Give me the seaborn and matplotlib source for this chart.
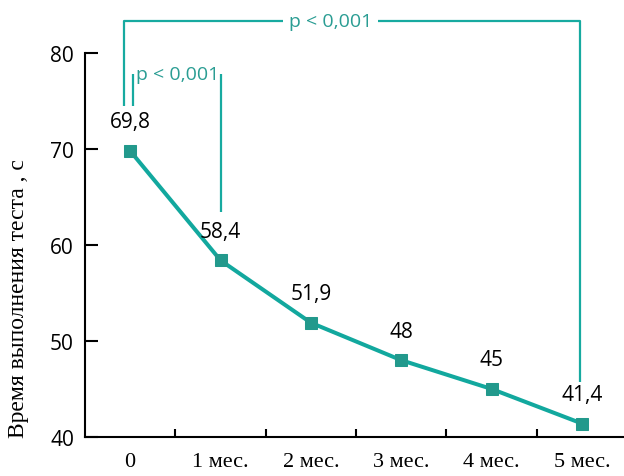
import matplotlib
matplotlib.use("Agg")
import matplotlib.pyplot as plt
import seaborn as sns
import pandas as pd
import numpy as np

# Test completion time over follow-up visits
periods = ["0", "1 мес.", "2 мес.", "3 мес.", "4 мес.", "5 мес."]
times = [69.8, 58.4, 51.9, 48.0, 45.0, 41.4]
time_labels = ["69,8", "58,4", "51,9", "48", "45", "41,4"]
y_ticks = [40, 50, 60, 70, 80]
p_text = "p < 0,001"

LINE = "#12a89e"
MARK = "#22998c"
ANNOT = "#17aaa0"
PTEXT = "#2a9d93"

sns.set_theme(style="white")
plt.rcParams["font.family"] = ["Open Sans", "DejaVu Sans"]

df = pd.DataFrame({"pos": np.arange(len(periods)), "time": times})

fig = plt.figure(figsize=(6.24, 4.77), dpi=100)
ax = fig.add_axes([0.1362, 0.0818, 0.8638, 0.805])

sns.lineplot(data=df, x="pos", y="time", ax=ax, color=LINE, linewidth=2.9,
             marker="s", markersize=8.5, markerfacecolor=MARK,
             markeredgecolor=MARK, zorder=3)

ax.set_xlim(-0.5, 5.465)
ax.set_ylim(40, 80)

# spines
for s in ["top", "right"]:
    ax.spines[s].set_visible(False)
for s in ["left", "bottom"]:
    ax.spines[s].set_color("black")
    ax.spines[s].set_linewidth(1.5)

ax.set_yticks(y_ticks)
ax.set_yticklabels([str(v) for v in y_ticks], fontsize=15, color="black")
ax.tick_params(axis="y", direction="in", length=9.5, width=1.5, pad=8,
               colors="black", left=True)

ax.set_xticks(range(len(periods)))
ax.set_xticklabels(periods, fontsize=16, family=["Liberation Serif"], color="black")
ax.set_xticks(np.arange(0.5, 5.0, 1.0), minor=True)
ax.tick_params(axis="x", which="major", length=0, pad=11)
ax.tick_params(axis="x", which="minor", direction="in", length=6, width=1.5,
               color="black", bottom=True)

ax.set_xlabel("")
ax.set_ylabel("Время выполнения теста , с", fontsize=17,
              family=["Liberation Serif"], color="black")
ax.yaxis.label.set_va("center")
ax.yaxis.set_label_coords(-0.124, 0.362)

# value labels above points
for i, (v, lab) in enumerate(zip(times, time_labels)):
    ax.annotate(lab, (i, v), xytext=(0, 21), textcoords="offset points",
                ha="center", va="center", fontsize=15, color="black")

# significance brackets
kw = dict(color=ANNOT, linewidth=1.6, clip_on=False, solid_capstyle="butt")
# 0 vs 5 months
ax.plot([-0.066, -0.066, 1.69], [74.5, 83.33, 83.33], **kw)
ax.plot([2.74, 4.98, 4.98], [83.33, 83.33, 45.7], **kw)
ax.text(2.215, 83.33, p_text, ha="center", va="center", fontsize=14,
        color=PTEXT, clip_on=False)
# 0 vs 1 month
ax.plot([0.033, 0.033], [74.5, 77.85], **kw)
ax.plot([1.0, 1.0], [77.85, 63.4], **kw)
ax.text(0.07, 77.85, p_text, ha="left", va="center", fontsize=14,
        color=PTEXT, clip_on=False)

fig.savefig("out.png", dpi=100)
